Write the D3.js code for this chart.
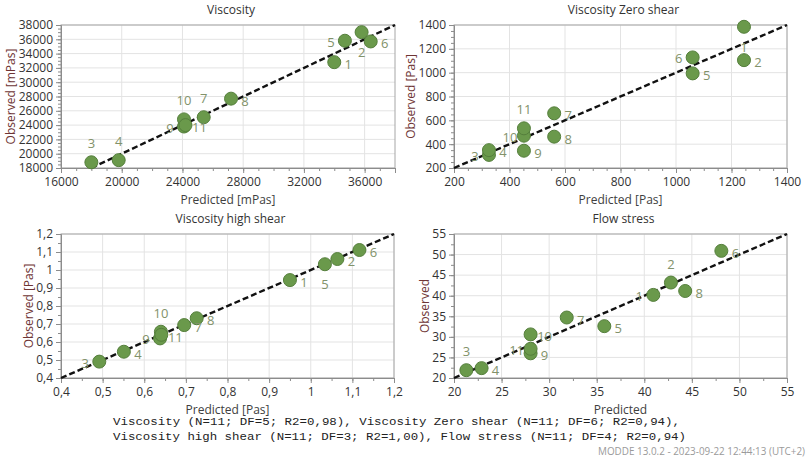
<!DOCTYPE html>
<html>
<head>
<meta charset="utf-8">
<script src="https://cdn.jsdelivr.net/npm/d3@7"></script>
<style>
  body { margin: 0; background: #fff; }
  svg { display: block; font-family: "Open Sans", "Noto Sans", sans-serif; }
</style>
</head>
<body>
<svg id="chart" width="807" height="459"></svg>
<script>
// ---------------- data ----------------
const obsIds = ["1", "2", "3", "4", "5", "6", "7", "8", "9", "10", "11"];

// Viscosity [mPas]
const viscPred = [34000, 35800, 18000, 19800, 34700, 36400, 25400, 27200, 24100, 24100, 24200];
const viscObs  = [32800, 37000, 18800, 19100, 35800, 35700, 25100, 27700, 23800, 24800, 24000];

// Viscosity Zero shear [Pas]
const zeroPred = [1245, 1245, 326, 326, 1060, 1060, 561, 561, 452, 452, 452];
const zeroObs  = [1385, 1105, 310, 350, 994, 1128, 659, 463, 345, 471, 533];

// Viscosity high shear [Pas]
const highPred = [0.95, 1.064, 0.492, 0.551, 1.034, 1.117, 0.696, 0.726, 0.638, 0.640, 0.641];
const highObs  = [0.944, 1.061, 0.491, 0.546, 1.032, 1.111, 0.694, 0.732, 0.62, 0.657, 0.64];

// Flow stress
const flowPred = [40.95, 42.8, 21.3, 22.9, 35.8, 48.1, 31.85, 44.3, 28.05, 28.05, 28.05];
const flowObs  = [40.2, 43.2, 21.9, 22.4, 32.6, 50.9, 34.7, 41.15, 26.0, 30.6, 27.1];

const footerLines = [
  "Viscosity (N=11; DF=5; R2=0,98), Viscosity Zero shear (N=11; DF=6; R2=0,94),",
  "Viscosity high shear (N=11; DF=3; R2=1,00), Flow stress (N=11; DF=4; R2=0,94)"
];
const stamp = "MODDE 13.0.2 - 2023-09-22 12:44:13 (UTC+2)";

// label side for each observation: r = right, l = left, a = above, b = below
const viscSide = ["r", "b", "a", "a", "l", "r", "a", "r", "l", "a", "r"];
const zeroSide = ["b", "r", "l", "r", "r", "l", "r", "r", "r", "l", "a"];
const highSide = ["r", "r", "l", "r", "b", "r", "r", "r", "l", "a", "r"];
const flowSide = ["l", "a", "a", "r", "r", "r", "r", "r", "r", "r", "l"];

// ---------------- panels ----------------
const panels = [
  { title: "Viscosity", xTitle: "Predicted [mPas]", yTitle: "Observed [mPas]",
    pred: viscPred, obs: viscObs, side: viscSide,
    xDom: [16000, 38000], yDom: [18000, 38000],
    xStep: 4000, xMinor: 1000, yStep: 2000, yMinor: 500,
    left: 61, right: 395, top: 25, bottom: 168 },
  { title: "Viscosity Zero shear", xTitle: "Predicted [Pas]", yTitle: "Observed [Pas]",
    pred: zeroPred, obs: zeroObs, side: zeroSide,
    xDom: [200, 1400], yDom: [200, 1400],
    xStep: 200, xMinor: 50, yStep: 200, yMinor: 50,
    left: 454, right: 787, top: 25, bottom: 168 },
  { title: "Viscosity high shear", xTitle: "Predicted [Pas]", yTitle: "Observed [Pas]",
    pred: highPred, obs: highObs, side: highSide,
    xDom: [0.4, 1.2], yDom: [0.4, 1.2],
    xStep: 0.1, xMinor: 0.05, yStep: 0.1, yMinor: 0.05,
    left: 61, right: 394, top: 234, bottom: 378 },
  { title: "Flow stress", xTitle: "Predicted", yTitle: "Observed",
    pred: flowPred, obs: flowObs, side: flowSide,
    xDom: [20, 55], yDom: [20, 55],
    xStep: 5, xMinor: 2.5, yStep: 5, yMinor: 2.5,
    left: 454, right: 787, top: 234, bottom: 378 }
];

const svg = d3.select("#chart");
const fmt = d => String(+d.toFixed(2)).replace(".", ",");
const ticksOf = (dom, step) => d3.range(0, Math.floor((dom[1] - dom[0]) / step + 1e-6) + 1)
  .map(i => +(dom[0] + i * step).toFixed(4));

panels.forEach(p => {
  const x = d3.scaleLinear().domain(p.xDom).range([p.left, p.right]);
  const y = d3.scaleLinear().domain(p.yDom).range([p.bottom, p.top]);
  const g = svg.append("g");
  const xMajor = ticksOf(p.xDom, p.xStep);
  const yMajor = ticksOf(p.yDom, p.yStep);

  // grid
  g.selectAll(".vg").data(xMajor).join("line")
    .attr("x1", d => x(d)).attr("x2", d => x(d))
    .attr("y1", p.top).attr("y2", p.bottom)
    .attr("stroke", "#e3e3e3");
  g.selectAll(".hg").data(yMajor).join("line")
    .attr("y1", d => y(d)).attr("y2", d => y(d))
    .attr("x1", p.left).attr("x2", p.right)
    .attr("stroke", "#e3e3e3");

  // frame
  g.append("rect")
    .attr("x", p.left).attr("y", p.top)
    .attr("width", p.right - p.left).attr("height", p.bottom - p.top)
    .attr("fill", "none").attr("stroke", "#a6a6a6");

  // axes
  g.append("g").attr("transform", `translate(0,${p.bottom})`)
    .call(d3.axisBottom(x).tickValues(xMajor).tickFormat(fmt).tickSize(5).tickPadding(4));
  g.append("g").attr("transform", `translate(0,${p.bottom})`)
    .call(d3.axisBottom(x).tickValues(ticksOf(p.xDom, p.xMinor)).tickFormat("").tickSize(3))
    .select(".domain").remove();
  const yAxis = g.append("g").attr("transform", `translate(${p.left},0)`)
    .call(d3.axisLeft(y).tickValues(yMajor).tickFormat(fmt).tickSize(5).tickPadding(3));
  g.append("g").attr("transform", `translate(${p.left},0)`)
    .call(d3.axisLeft(y).tickValues(ticksOf(p.yDom, p.yMinor)).tickFormat("").tickSize(3))
    .select(".domain").remove();

  g.selectAll(".domain").attr("stroke", "#8c8c8c");
  g.selectAll(".tick line").attr("stroke", "#8c8c8c");
  g.selectAll(".tick text").attr("fill", "#333").style("font-size", "12px")
    .style("font-family", "'Open Sans', sans-serif");

  // titles
  g.append("text")
    .attr("x", (p.left + p.right) / 2 + 3).attr("y", p.top - 16)
    .attr("text-anchor", "middle").attr("dominant-baseline", "central")
    .attr("fill", "#333").style("font-size", "12px").text(p.title);
  g.append("text")
    .attr("x", (p.left + p.right) / 2).attr("y", p.bottom + 31)
    .attr("text-anchor", "middle").attr("dominant-baseline", "central")
    .attr("fill", "#404040").style("font-size", "12px").text(p.xTitle);
  const yb = yAxis.node().getBBox();
  const ytx = yb.x + p.left - 8;
  g.append("text")
    .attr("transform", `translate(${ytx},${(p.top + p.bottom) / 2}) rotate(-90)`)
    .attr("text-anchor", "middle").attr("dominant-baseline", "central")
    .attr("fill", "#6e3434").style("font-size", "12px").text(p.yTitle);

  // 1:1 line, clipped to the plot area
  const lo = Math.max(p.xDom[0], p.yDom[0]);
  const hi = Math.min(p.xDom[1], p.yDom[1]);
  g.append("line")
    .attr("x1", x(lo)).attr("y1", y(lo))
    .attr("x2", x(hi)).attr("y2", y(hi))
    .attr("stroke", "#111").attr("stroke-width", 2.4)
    .attr("stroke-dasharray", "6,3");

  // points
  const pts = obsIds.map((id, i) => ({ id, px: p.pred[i], ob: p.obs[i], side: p.side[i] }));
  g.selectAll(".pt").data(pts).join("circle")
    .attr("cx", d => x(d.px)).attr("cy", d => y(d.ob))
    .attr("r", 6.5)
    .attr("fill", "#6a994b").attr("stroke", "#557f3c").attr("stroke-width", 1);

  const off = { r: [14, 2], l: [-14, 1], a: [0, -19], b: [0, 20] };
  g.selectAll(".lab").data(pts).join("text")
    .attr("x", d => x(d.px) + off[d.side][0])
    .attr("y", d => y(d.ob) + off[d.side][1])
    .attr("text-anchor", "middle").attr("dominant-baseline", "central")
    .attr("fill", "#82926a").style("font-size", "13px")
    .text(d => d.id);
});

// footer
svg.selectAll(".foot").data(footerLines).join("text")
  .attr("x", 113).attr("y", (d, i) => 422 + i * 14.5)
  .attr("dominant-baseline", "central")
  .attr("fill", "#222")
  .style("font-family", "'Liberation Mono', 'DejaVu Sans Mono', monospace")
  .style("font-size", "11px")
  .attr("textLength", (d, i) => i === 0 ? 567 : 573)
  .attr("lengthAdjust", "spacingAndGlyphs")
  .text(d => d);

svg.append("text")
  .attr("x", 805).attr("y", 451)
  .attr("text-anchor", "end").attr("dominant-baseline", "central")
  .attr("fill", "#9a9a9a").style("font-size", "10px")
  .attr("textLength", 207).attr("lengthAdjust", "spacingAndGlyphs")
  .text(stamp);
</script>
</body>
</html>
